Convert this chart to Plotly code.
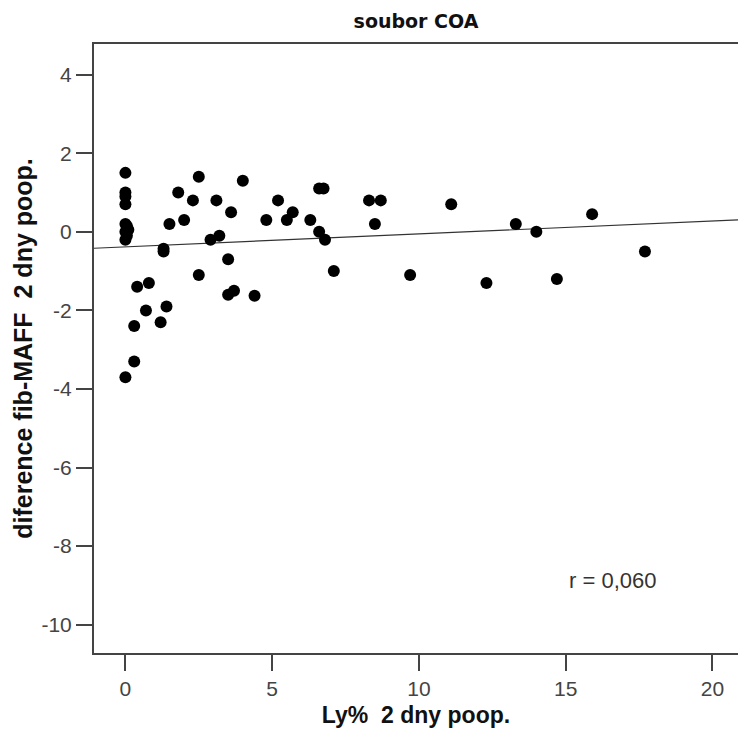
import numpy as np
import plotly.graph_objects as go

# Ly% 2 days after (x) vs. difference fib-MAFF 2 days after (y)
ly_pct = [0, 0, 0, 0, 0, 0.05, 0.1, 0, 0.05, 0, 0,
          0.4, 0.8, 0.3, 0.7, 1.4, 1.2, 0.3,
          1.3, 1.3, 1.5, 1.8, 2.0, 2.5, 2.3, 2.5, 2.9, 3.2, 3.1, 3.5, 3.6, 4.0,
          3.5, 3.7, 4.4, 4.8, 5.2, 5.5, 5.7, 6.3, 6.6, 6.75, 6.6, 6.8, 7.1,
          8.3, 8.7, 8.5, 9.7, 11.1, 12.3, 13.3, 14.0, 14.7, 15.9, 17.7]
diff_fib_maff = [1.5, 1.0, 0.9, 0.7, 0.2, 0.15, 0.05, 0.0, -0.1, -0.2, -3.7,
                 -1.4, -1.3, -2.4, -2.0, -1.9, -2.3, -3.3,
                 -0.43, -0.5, 0.2, 1.0, 0.3, 1.4, 0.8, -1.1, -0.2, -0.1, 0.8, -0.7, 0.5, 1.3,
                 -1.6, -1.5, -1.63, 0.3, 0.8, 0.3, 0.5, 0.3, 1.1, 1.1, 0.0, -0.2, -1.0,
                 0.8, 0.8, 0.2, -1.1, 0.7, -1.3, 0.2, 0.0, -1.2, 0.45, -0.5]

x_ticks = [0, 5, 10, 15, 20]
y_ticks = [4, 2, 0, -2, -4, -6, -8, -10]
x_range = [-1.07, 20.87]
y_range = [-10.72, 4.78]
r_label = "r = 0,060"

# least-squares fit line across the whole x range
slope, intercept = np.polyfit(ly_pct, diff_fib_maff, 1)
fit_x = np.array(x_range)
fit_y = intercept + slope * fit_x

font = "Liberation Sans, Arial, sans-serif"
axis_col = "#444444"

fig = go.Figure()
fig.add_trace(go.Scatter(
    x=fit_x, y=fit_y, mode="lines",
    line=dict(color="#333333", width=1.2),
    hoverinfo="skip", showlegend=False,
))
fig.add_trace(go.Scatter(
    x=ly_pct, y=diff_fib_maff, mode="markers",
    marker=dict(color="black", size=12, line=dict(width=0)),
    showlegend=False,
))

fig.add_annotation(
    x=16.6, y=-8.88, text=r_label, showarrow=False,
    font=dict(family=font, size=22, color="#333333"),
)

fig.update_layout(
    width=738, height=736,
    margin=dict(l=94, r=0, t=44, b=83),
    paper_bgcolor="white", plot_bgcolor="white",
    title=dict(
        text="<b>soubor COA</b>", x=(94 + 738) / 2 / 738, xanchor="center",
        y=1 - 21 / 736, yanchor="middle",
        font=dict(family="DejaVu Sans, Verdana, sans-serif", size=19, color="#111111"),
    ),
)
fig.update_xaxes(
    range=x_range, tickvals=x_ticks, ticktext=[str(v) for v in x_ticks],
    showgrid=False, zeroline=False,
    showline=True, linecolor=axis_col, linewidth=2, mirror=True,
    ticks="outside", ticklen=16, tickwidth=2, tickcolor=axis_col,
    tickfont=dict(family=font, size=21, color="#444444"),
    title=dict(text="<b>Ly%\u00a0\u00a02 dny poop.</b>", standoff=8,
               font=dict(family=font, size=23, color="#111111")),
)
fig.update_yaxes(
    range=y_range, tickvals=y_ticks, ticktext=[str(v) for v in y_ticks],
    showgrid=False, zeroline=False,
    showline=True, linecolor=axis_col, linewidth=2, mirror=False,
    ticks="outside", ticklen=16, tickwidth=2, tickcolor=axis_col,
    tickfont=dict(family=font, size=21, color="#444444"),
    title=dict(text="<b>diference fib-MAFF\u00a0\u00a02 dny poop.</b>", standoff=2,
               font=dict(family=font, size=25, color="#111111")),
)

fig.write_html("out.html")
